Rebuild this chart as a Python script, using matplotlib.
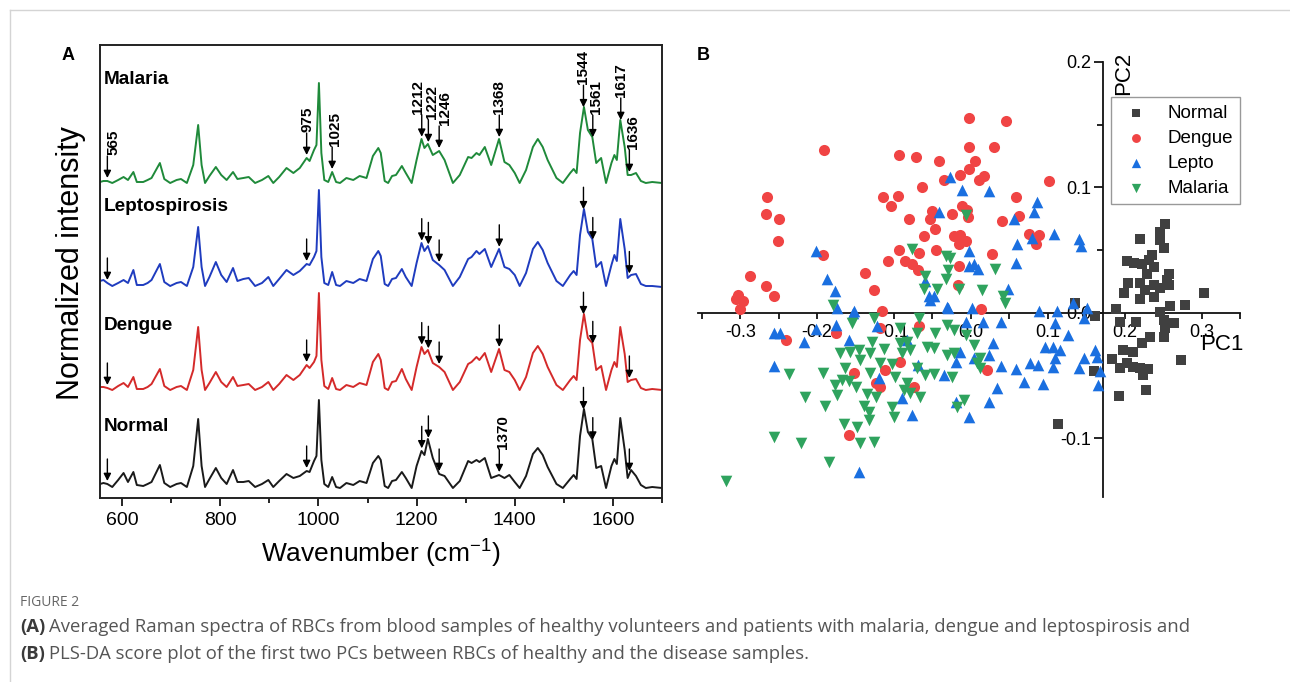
import numpy as np
import matplotlib
matplotlib.use("Agg")
import matplotlib.pyplot as plt
from matplotlib.lines import Line2D

plt.rcParams["font.family"] = ["Liberation Sans", "DejaVu Sans"]
plt.rcParams["axes.unicode_minus"] = False
plt.rcParams["mathtext.default"] = "regular"

# =====================================
# Data: Raman spectra (panel A)
# =====================================

wavenumber = [
    555, 562, 570, 580, 592, 603, 612, 623, 630, 643,
    652, 660, 677, 686, 698, 711, 720, 732, 745, 755,
    762, 769, 778, 791, 802, 813, 826, 835, 847, 858,
    871, 885, 898, 908, 920, 935, 949, 962, 976, 982,
    991, 996, 1001, 1006, 1012, 1020, 1028, 1036, 1044, 1057,
    1071, 1084, 1098, 1111, 1122, 1127, 1135, 1142, 1150, 1158,
    1170, 1178, 1190, 1200, 1210, 1216, 1223, 1233, 1246, 1257,
    1274, 1288, 1305, 1312, 1322, 1328, 1339, 1352, 1368, 1379,
    1389, 1400, 1410, 1423, 1437, 1447, 1457, 1467, 1485, 1498,
    1513, 1520, 1526, 1533, 1541, 1549, 1558, 1566, 1576, 1586,
    1597, 1603, 1608, 1615, 1624, 1630, 1637, 1647, 1657, 1667,
    1680, 1700,
]

malaria = [
    1, 2, 2, 0, 3, 6, 3, 11, 1, 1,
    3, 5, 20, 4, 0, 3, 4, 0, 18, 58,
    18, 0, 7, 16, 8, 3, 11, 4, 5, 6,
    0, 3, 7, 0, 6, 15, 10, 15, 25, 22,
    33, 38, 100, 30, 3, 1, 11, 1, 0, 5,
    3, 7, 5, 27, 35, 30, 2, 0, 7, 8,
    17, 10, 0, 23, 44, 35, 39, 28, 32, 23,
    0, 8, 26, 25, 30, 28, 36, 18, 44, 21,
    18, 10, 0, 13, 36, 44, 36, 23, 5, 0,
    10, 14, 10, 50, 76, 53, 46, 20, 25, 0,
    20, 28, 23, 63, 36, 8, 8, 10, 2, 0,
    1, 0,
]

lepto = [
    6, 7, 4, 1, 4, 7, 4, 17, 2, 2,
    4, 7, 23, 5, 1, 4, 5, 1, 20, 60,
    20, 1, 10, 25, 12, 5, 19, 6, 8, 9,
    1, 4, 10, 1, 8, 17, 12, 16, 23, 22,
    30, 36, 97, 30, 4, 2, 15, 2, 1, 6,
    4, 8, 6, 28, 36, 31, 3, 1, 8, 9,
    18, 10, 1, 24, 44, 36, 41, 27, 22, 17,
    1, 10, 28, 30, 36, 33, 38, 20, 38, 20,
    18, 12, 1, 14, 38, 45, 37, 24, 6, 1,
    12, 16, 12, 52, 78, 55, 48, 20, 25, 1,
    22, 32, 26, 68, 38, 9, 12, 13, 3, 1,
    1, 0,
]

dengue = [
    3, 3, 2, 0, 4, 7, 3, 13, 1, 1,
    3, 6, 21, 4, 0, 3, 4, 0, 20, 63,
    20, 0, 7, 18, 8, 3, 13, 4, 5, 6,
    0, 3, 8, 0, 6, 15, 10, 15, 25, 22,
    28, 34, 97, 30, 4, 1, 12, 1, 0, 5,
    3, 7, 5, 28, 36, 30, 2, 0, 8, 9,
    21, 11, 0, 23, 43, 36, 40, 27, 23, 18,
    0, 8, 26, 28, 33, 30, 37, 18, 41, 20,
    18, 10, 0, 13, 37, 44, 36, 23, 5, 0,
    10, 14, 10, 50, 76, 52, 47, 20, 24, 0,
    20, 28, 23, 63, 36, 8, 10, 11, 2, 0,
    1, 0,
]

normal = [
    4, 5, 4, 1, 8, 15, 6, 16, 3, 2,
    4, 6, 23, 5, 1, 4, 5, 1, 22, 69,
    22, 1, 9, 20, 10, 4, 18, 6, 6, 7,
    1, 4, 8, 1, 7, 14, 10, 12, 17, 16,
    27, 32, 88, 28, 4, 1, 11, 1, 0, 5,
    3, 7, 5, 25, 32, 28, 2, 0, 7, 8,
    16, 10, 0, 22, 37, 33, 49, 30, 14, 12,
    0, 7, 27, 25, 28, 26, 30, 10, 13, 10,
    13, 6, 0, 12, 34, 40, 33, 21, 4, 0,
    9, 13, 9, 52, 79, 56, 49, 20, 22, 0,
    22, 29, 24, 70, 38, 10, 18, 12, 3, 0,
    1, 0,
]

spectrum_names = ["Malaria", "Leptospirosis", "Dengue", "Normal"]

# band labels (text) and the wavenumber where each arrow sits
band_labels = ["565", "975", "1025", "1212", "1222", "1246", "1368", "1544", "1561", "1617", "1636"]
band_x = [570, 976, 1028, 1210.5, 1224, 1246, 1368.5, 1540, 1559, 1616, 1633.5]

# =====================================
# Data: PLS-DA scores (panel B)
# =====================================

normal_pc = np.array([
    (0.253, 0.0707), (0.2455, 0.0646), (0.220, 0.059), (0.2455, 0.058), (0.251, 0.052),
    (0.2356, 0.046), (0.203, 0.041), (0.212, 0.040), (0.2226, 0.039), (0.231, 0.042),
    (0.2377, 0.0367), (0.229, 0.031), (0.257, 0.031), (0.255, 0.026), (0.204, 0.024),
    (0.220, 0.024), (0.2377, 0.022), (0.1987, 0.016), (0.227, 0.018), (0.2464, 0.0195),
    (0.257, 0.022), (0.3036, 0.016), (0.220, 0.0107), (0.2377, 0.0128), (0.279, 0.006),
    (0.259, 0.0053), (0.189, 0.0027), (0.135, 0.0075), (0.161, -0.0026), (0.2464, 0.0008),
    (0.1935, -0.0072), (0.215, -0.0072), (0.2507, -0.0058), (0.253, -0.0124), (0.2637, -0.0085),
    (0.2334, -0.019), (0.2226, -0.0244), (0.2507, -0.019), (0.198, -0.0297), (0.211, -0.031),
    (0.2733, -0.038), (0.1836, -0.037), (0.1944, -0.0443), (0.203, -0.040), (0.211, -0.043),
    (0.220, -0.0443), (0.230, -0.045), (0.224, -0.0497), (0.1597, -0.0465), (0.228, -0.0616),
    (0.192, -0.0664), (0.113, -0.089),
])

dengue_pc = np.array([
    (-0.191, 0.130), (-0.093, 0.126), (-0.072, 0.124), (-0.042, 0.121), (-0.035, 0.106),
    (-0.014, 0.110), (-0.002, 0.155), (-0.002, 0.132), (-0.002, 0.115), (-0.265, 0.092),
    (-0.266, 0.079), (-0.250, 0.075), (-0.251, 0.057), (-0.287, 0.029), (-0.266, 0.021),
    (-0.256, 0.013), (-0.303, 0.014), (-0.306, 0.011), (-0.296, 0.009), (-0.300, 0.003),
    (-0.192, 0.046), (-0.114, 0.0925), (-0.095, 0.093), (-0.104, 0.085), (-0.064, 0.100),
    (-0.080, 0.075), (-0.051, 0.081), (-0.053, 0.075), (-0.047, 0.067), (-0.024, 0.079),
    (-0.012, 0.085), (-0.061, 0.061), (-0.022, 0.061), (-0.014, 0.062), (-0.016, 0.055),
    (-0.007, 0.057), (-0.093, 0.050), (-0.068, 0.048), (-0.045, 0.050), (-0.086, 0.041),
    (-0.077, 0.039), (-0.069, 0.034), (-0.108, 0.041), (-0.138, 0.032), (-0.126, 0.018),
    (-0.116, 0.001), (-0.016, 0.037), (-0.017, 0.022), (0.005, 0.121), (0.017, 0.109),
    (0.010, 0.106), (0.046, 0.153), (0.030, 0.132), (0.101, 0.105), (0.059, 0.092),
    (-0.005, 0.082), (-0.004, 0.076), (0.063, 0.077), (0.041, 0.073), (0.075, 0.063),
    (0.088, 0.062), (0.085, 0.055), (0.027, 0.047), (0.013, 0.003), (0.021, -0.0457),
    (-0.241, -0.0218), (-0.176, -0.0164), (-0.1186, -0.0124), (-0.068, -0.0106), (-0.0744, -0.059),
    (-0.0926, -0.039), (-0.112, -0.0457), (-0.1515, -0.0478), (-0.124, -0.0563), (-0.1177, -0.0595),
    (-0.158, -0.0975),
])

lepto_pc = np.array([
    (-0.027, 0.108), (-0.011, 0.098), (-0.041, 0.080), (-0.201, 0.049), (-0.187, 0.027),
    (-0.177, 0.017), (-0.174, 0.004), (-0.152, 0.001), (-0.060, 0.025), (-0.055, 0.013),
    (-0.048, 0.013), (-0.030, 0.004), (-0.003, 0.049), (-0.003, 0.037), (0.024, 0.097),
    (0.086, 0.088), (0.082, 0.080), (0.056, 0.075), (0.108, 0.0625), (0.080, 0.060),
    (0.060, 0.055), (0.141, 0.059), (0.143, 0.053), (0.004, 0.039), (0.009, 0.035),
    (0.059, 0.040), (0.048, 0.019), (0.002, 0.004), (0.088, 0.001), (0.112, 0.001),
    (0.133, 0.0075), (0.151, 0.004), (-0.007, -0.0072), (0.016, -0.0072), (0.039, -0.0072),
    (0.109, -0.008), (0.1467, -0.0045), (0.126, -0.0178), (0.097, -0.027), (0.107, -0.027),
    (0.1155, -0.0297), (0.029, -0.0244), (0.023, -0.0337), (-0.0137, -0.031), (0.109, -0.0364),
    (0.107, -0.043), (0.039, -0.0425), (0.058, -0.045), (0.077, -0.040), (0.087, -0.0417),
    (0.0687, -0.055), (0.094, -0.0569), (0.140, -0.0443), (0.1467, -0.0364), (0.162, -0.030),
    (0.164, -0.035), (0.168, -0.0465), (0.165, -0.0577), (0.034, -0.060), (0.023, -0.071),
    (-0.003, -0.083), (0.0036, -0.0364), (-0.2564, -0.016), (-0.2477, -0.0164), (-0.2174, -0.0231),
    (-0.201, -0.0132), (-0.176, -0.0098), (-0.153, -0.0005), (-0.159, -0.0218), (-0.2564, -0.0425),
    (-0.122, -0.0106), (-0.119, -0.0518), (-0.0895, -0.0683), (-0.0765, -0.0816), (-0.146, -0.1268),
    (-0.0687, -0.0417), (-0.0354, -0.0497), (-0.020, -0.039), (-0.0189, -0.071), (-0.031, 0.0048),
    (-0.0536, 0.010), (-0.083, -0.0218),
])

malaria_pc = np.array([
    (-0.077, 0.051), (-0.033, 0.045), (-0.027, 0.044), (-0.030, 0.034), (-0.032, 0.027),
    (-0.060, 0.029), (-0.061, 0.019), (-0.044, 0.019), (-0.016, 0.019), (-0.007, 0.078),
    (-0.180, 0.006), (0.031, 0.035), (0.015, 0.018), (0.042, 0.013), (0.044, 0.008),
    (-0.007, -0.0178), (0.0036, -0.0258), (0.008, -0.040), (0.012, -0.0443), (0.012, -0.036),
    (-0.0094, -0.0696), (-0.1545, -0.008), (-0.1264, -0.0045), (-0.0917, -0.0124), (-0.068, -0.0045),
    (-0.0462, -0.0164), (-0.031, -0.0098), (-0.0224, -0.0138), (-0.1285, -0.0231), (-0.0917, -0.0244),
    (-0.083, -0.0231), (-0.057, -0.0271), (-0.1697, -0.0324), (-0.1567, -0.0311), (-0.146, -0.0297),
    (-0.1307, -0.0319), (-0.1134, -0.0292), (-0.0895, -0.0324), (-0.0787, -0.0297), (-0.031, -0.0337),
    (-0.0224, -0.0324), (-0.1437, -0.0377), (-0.1177, -0.0399), (-0.1025, -0.0409), (-0.1632, -0.0443),
    (-0.1307, -0.0483), (-0.0982, -0.051), (-0.070, -0.0443), (-0.0592, -0.0497), (-0.0484, -0.0489),
    (-0.0244, -0.0515), (-0.2369, -0.0489), (-0.1922, -0.0478), (-0.1762, -0.0577), (-0.1675, -0.0537),
    (-0.1589, -0.0542), (-0.150, -0.059), (-0.174, -0.0656), (-0.135, -0.0648), (-0.124, -0.067),
    (-0.083, -0.0563), (-0.0787, -0.0643), (-0.0657, -0.067), (-0.0874, -0.0616), (-0.1025, -0.075),
    (-0.1004, -0.0829), (-0.1394, -0.0744), (-0.1329, -0.079), (-0.1329, -0.0856), (-0.1654, -0.0888),
    (-0.148, -0.0909), (-0.1892, -0.0744), (-0.2152, -0.067), (-0.1437, -0.1041), (-0.1255, -0.1029),
    (-0.2564, -0.0989), (-0.2204, -0.1041), (-0.1849, -0.1188), (-0.318, -0.134), (-0.018, -0.075),
    (-0.070, -0.0164), (-0.0484, -0.0284),
])

x_ticks_b = [-0.3, -0.2, -0.1, 0.0, 0.1, 0.2, 0.3]
x_labels_b = ["-0.3", "-0.2", "-0.1", "0.0", "0.1", "0.2", "0.3"]
y_ticks_b = [-0.1, 0.0, 0.1, 0.2]
y_labels_b = ["-0.1", "0.0", "0.1", "0.2"]

# =====================================
# Figure layout (pixel helpers)
# =====================================

W, H = 1290, 682


def fx(px):
    return px / W


def fy(py):
    return 1 - py / H


fig = plt.figure(figsize=(12.9, 6.82), dpi=100)

# page frame lines
fig.add_artist(Line2D([fx(10), 1], [fy(10), fy(10)], transform=fig.transFigure, color="#d4d4d4", lw=1))
fig.add_artist(Line2D([fx(10), fx(10)], [0, fy(10)], transform=fig.transFigure, color="#d4d4d4", lw=1))

# =====================================
# Panel A
# =====================================

axA = fig.add_axes([fx(100), fy(498), (662 - 100) / W, (498 - 45) / H])
axA.set_xlim(555, 1700)
axA.set_ylim(0, 453)

offsets = [315, 211, 108, 10]
colors = ["#1f8a3a", "#1f3cbf", "#d42a2a", "#1a1a1a"]
series = [malaria, lepto, dengue, normal]
name_y = [414, 287, 168, 67]

for name, hs, off, c, ny in zip(spectrum_names, series, offsets, colors, name_y):
    axA.plot(wavenumber, np.array(hs) + off, color=c, lw=1.4, solid_joinstyle="round")
    axA.text(563, ny, name, fontsize=13.7, fontweight="bold", va="baseline", ha="left")

label_dx = [6, 1, 3, -4, 4, 6, 0, 0, 3, 0, 4]


def mark(x, off, hs, label=None, dx=0):
    tip = np.interp(x, wavenumber, hs) + off + 3
    tail = tip + 22
    axA.annotate("", xy=(x, tip), xytext=(x, tail),
                 arrowprops=dict(arrowstyle="-|>", color="black", lw=1.0,
                                 mutation_scale=11, shrinkA=0, shrinkB=0))
    if label:
        axA.text(x + dx / 0.4908, tail + 1, label, rotation=90, ha="center",
                 va="bottom", fontsize=11, fontweight="bold")


for lab, x, dx in zip(band_labels, band_x, label_dx):
    mark(x, offsets[0], malaria, lab, dx)

for hs, off in [(lepto, offsets[1]), (dengue, offsets[2])]:
    for lab, x in zip(band_labels, band_x):
        if lab in ("1025", "1617"):
            continue
        mark(x, off, hs)

for lab, x in zip(band_labels, band_x):
    if lab in ("1025", "1617"):
        continue
    if lab == "1368":
        mark(x, offsets[3], normal, "1370", 4)
    else:
        mark(x, offsets[3], normal)

axA.set_xticks([600, 800, 1000, 1200, 1400, 1600])
axA.set_xticks([700, 900, 1100, 1300, 1500, 1700], minor=True)
axA.set_yticks([])
axA.tick_params(axis="x", which="major", length=6, width=1.2, direction="out", labelsize=14, pad=4)
axA.tick_params(axis="x", which="minor", length=3.6, width=1.2, direction="out")
for s in axA.spines.values():
    s.set_linewidth(1.4)
    s.set_color("#222222")

fig.text(fx(71), fy(263), "Normalized intensity", rotation=90, ha="center", va="center", fontsize=22)
fig.text(fx(381), fy(554), "Wavenumber (cm$^{-1}$)", ha="center", va="center", fontsize=19)
fig.text(fx(62), fy(55), "A", fontsize=13, fontweight="bold", va="center", ha="left")

# =====================================
# Panel B
# =====================================

axB = fig.add_axes([fx(698), fy(497), (1240 - 698) / W, (497 - 62) / H])
axB.set_xlim(-0.355, 0.35)
axB.set_ylim(-0.147, 0.2)
axB.set_axisbelow(True)

axB.spines["left"].set_position(("data", 0.172))
axB.spines["bottom"].set_position(("data", 0.0))
axB.spines["top"].set_visible(False)
axB.spines["right"].set_visible(False)
for s in ("left", "bottom"):
    axB.spines[s].set_linewidth(1.3)
    axB.spines[s].set_color("#111111")

axB.scatter(normal_pc[:, 0], normal_pc[:, 1], marker="s", s=46, color="#404040", linewidths=0, zorder=3, label="Normal")
axB.scatter(dengue_pc[:, 0], dengue_pc[:, 1], marker="o", s=64, color="#f04444", linewidths=0, zorder=3, label="Dengue")
axB.scatter(lepto_pc[:, 0], lepto_pc[:, 1], marker="^", s=70, color="#1a6fe0", linewidths=0, zorder=3, label="Lepto")
axB.scatter(malaria_pc[:, 0], malaria_pc[:, 1], marker="v", s=70, color="#2fa35e", linewidths=0, zorder=3, label="Malaria")

axB.set_xticks(x_ticks_b)
axB.set_xticklabels(x_labels_b)
axB.set_xticks([-0.35, -0.25, -0.15, -0.05, 0.05, 0.15, 0.25, 0.35], minor=True)
axB.set_yticks(y_ticks_b)
axB.set_yticklabels(y_labels_b)
axB.set_yticks([-0.05, 0.05, 0.15], minor=True)
axB.tick_params(axis="x", which="both", length=4.3, width=1.2, direction="out", labelsize=13, pad=4)
axB.tick_params(axis="y", which="major", length=6.5, width=1.2, direction="out", labelsize=13, pad=2)
axB.tick_params(axis="y", which="minor", length=4.3, width=1.2, direction="out")

leg = axB.legend(loc="upper left", bbox_to_anchor=(fx(1111), fy(97)), bbox_transform=fig.transFigure,
                 frameon=True, fancybox=False, edgecolor="#808080", fontsize=13.5,
                 borderpad=0.4, labelspacing=0.42, handlelength=1.9, handletextpad=0.7,
                 borderaxespad=0, scatterpoints=1, markerscale=0.8)
leg.get_frame().set_linewidth(1.0)

fig.text(fx(1124), fy(73), "PC2", rotation=90, ha="center", va="center", fontsize=16)
fig.text(fx(1222), fy(345), "PC1", ha="center", va="center", fontsize=16)
fig.text(fx(697), fy(55), "B", fontsize=13, fontweight="bold", va="center", ha="left")

# =====================================
# Caption
# =====================================

cap_font = dict(family=["Open Sans", "DejaVu Sans"], fontsize=13.3, va="center")
fig.text(fx(20), fy(602), "FIGURE 2", color="#666666", family=["Open Sans", "DejaVu Sans"], fontsize=10, va="center")

renderer = fig.canvas.get_renderer()
caption = [
    (627, "(A)", "Averaged Raman spectra of RBCs from blood samples of healthy volunteers and patients with malaria, dengue and leptospirosis and"),
    (654, "(B)", "PLS-DA score plot of the first two PCs between RBCs of healthy and the disease samples."),
]
for y, tag, rest in caption:
    t = fig.text(fx(20), fy(y), tag, color="#3a3a3a", fontweight="bold", **cap_font)
    bb = t.get_window_extent(renderer=renderer)
    fig.text((bb.x1 + 4) / W, fy(y), rest, color="#555555", **cap_font)

fig.savefig("out.png", dpi=100)
